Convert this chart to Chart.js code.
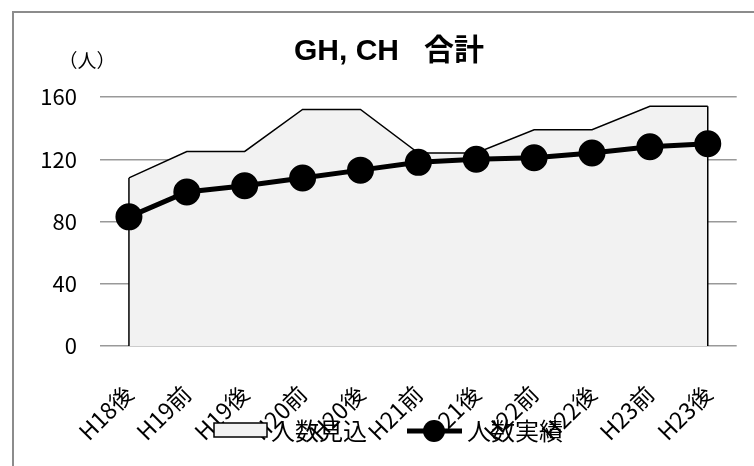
<!DOCTYPE html>
<html lang="ja">
<head>
<meta charset="UTF-8">
<title>GH, CH 合計</title>
<style>
  body { margin: 0; background: #fff; }
  #wrap { position: relative; width: 754px; height: 466px; overflow: hidden; }
  #frame { position: absolute; left: 12px; top: 11px; width: 800px; height: 500px;
           border-left: 2px solid #8c8c8c; border-top: 2px solid #8c8c8c; }
  canvas { position: absolute; left: 0; top: 0; }
</style>
</head>
<body>
<div id="wrap">
  <div id="frame"></div>
  <canvas id="myChart" width="754" height="466"></canvas>
</div>

<script src="https://cdn.jsdelivr.net/npm/chart.js"></script>
<script>
// データ
const categories = ['H18後', 'H19前', 'H19後', 'H20前', 'H20後', 'H21前', 'H21後', 'H22前', 'H22後', 'H23前', 'H23後'];
const estimate = [108, 125, 125, 152, 152, 124, 124, 139, 139, 154, 154];  // 人数見込
const actual = [83, 99, 103, 108, 113, 118, 120, 121, 124, 128, 130];      // 人数実績
const yTicks = [0, 40, 80, 120, 160];
const unitLabel = '（人）';

const FONT = '"Noto Sans CJK JP", "Noto Sans", sans-serif';
const TITLE_FONT = '"Liberation Sans", "Noto Sans CJK JP", sans-serif';

// 面グラフの両端の縦線
const areaEdges = {
  id: 'areaEdges',
  afterDatasetDraw(chart, args) {
    if (args.index !== 0) return;
    const pts = args.meta.data;
    const base = chart.scales.y.getPixelForValue(0);
    const c = chart.ctx;
    c.save();
    c.strokeStyle = '#000';
    c.lineWidth = 1.5;
    [pts[0], pts[pts.length - 1]].forEach(p => {
      c.beginPath();
      c.moveTo(p.x, p.y);
      c.lineTo(p.x, base);
      c.stroke();
    });
    c.restore();
  }
};

// 単位と凡例（ラベルに重なる Excel 風の位置）
const extras = {
  id: 'extras',
  afterDraw(chart) {
    const c = chart.ctx;
    const ds = chart.data.datasets;
    c.save();
    c.fillStyle = '#000';
    c.textBaseline = 'middle';
    c.font = '19px ' + FONT;
    c.textAlign = 'center';
    c.fillText(unitLabel, 87, 61);

    // 人数見込
    c.fillStyle = ds[0].backgroundColor;
    c.fillRect(214, 423, 53, 14);
    c.strokeStyle = '#000';
    c.lineWidth = 1.5;
    c.strokeRect(214, 423, 53, 14);
    c.fillStyle = '#000';
    c.font = '24px ' + FONT;
    c.textAlign = 'left';
    c.fillText(ds[0].label, 271, 431);

    // 人数実績
    c.lineWidth = 5;
    c.beginPath();
    c.moveTo(407, 431);
    c.lineTo(462, 431);
    c.stroke();
    c.beginPath();
    c.arc(434, 431, 11, 0, Math.PI * 2);
    c.fill();
    c.fillText(ds[1].label, 467, 431);
    c.restore();
  }
};

const ctx = document.getElementById('myChart');

new Chart(ctx, {
  type: 'line',
  data: {
    labels: categories,
    datasets: [{
      label: '人数見込',
      data: estimate,
      fill: 'origin',
      backgroundColor: '#f2f2f2',
      borderColor: '#000',
      borderWidth: 1.5,
      pointRadius: 0,
      tension: 0,
      order: 1
    }, {
      label: '人数実績',
      data: actual,
      fill: false,
      borderColor: '#000',
      borderWidth: 5,
      pointRadius: 11,
      pointBackgroundColor: '#000',
      pointBorderColor: '#000',
      tension: 0,
      order: 0
    }]
  },
  options: {
    responsive: false,
    animation: false,
    layout: { padding: { left: 40, right: 16, top: 0, bottom: 0 } },
    plugins: {
      legend: { display: false },
      tooltip: { enabled: false },
      title: {
        display: true,
        text: 'GH, CH   合計',
        color: '#000',
        font: { family: TITLE_FONT, size: 30, weight: 'bold' },
        padding: { top: 34, bottom: 27 }
      }
    },
    scales: {
      x: {
        offset: true,
        grid: { display: false },
        border: { display: false },
        ticks: {
          color: '#000',
          font: { family: FONT, size: 23 },
          minRotation: 45,
          maxRotation: 45,
          autoSkip: false,
          padding: 26
        },
        afterFit(scale) { scale.height = 120; }
      },
      y: {
        min: 0,
        max: 160,
        afterBuildTicks(scale) { scale.ticks = yTicks.map(v => ({ value: v })); },
        grid: { color: '#999', lineWidth: 1.5, drawTicks: false },
        border: { display: false },
        ticks: {
          color: '#000',
          font: { family: FONT, size: 22 },
          padding: 23
        },
        afterFit(scale) { scale.width = 60; }
      }
    }
  },
  plugins: [areaEdges, extras]
});
</script>
</body>
</html>
